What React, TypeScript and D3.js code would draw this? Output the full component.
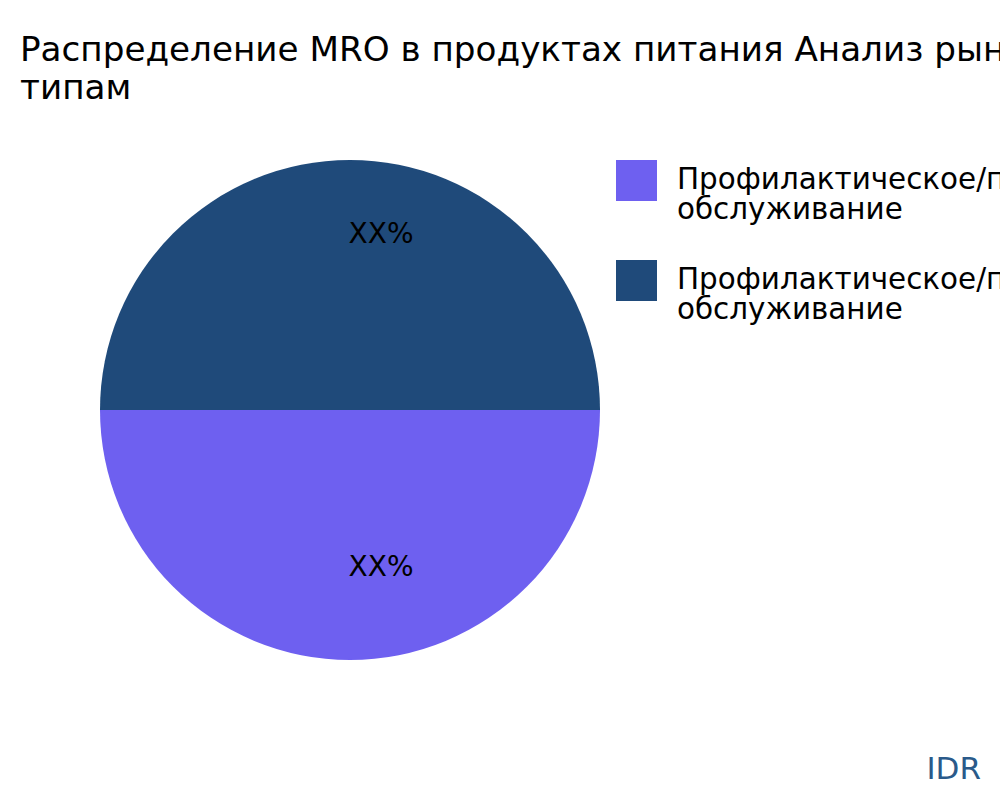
import React from "react";
import * as d3 from "d3";

const categories = [
  "Профилактическое/плановое обслуживание",
  "Профилактическое/плановое обслуживание",
];
const legendLines = [
  ["Профилактическое/плановое", "обслуживание"],
  ["Профилактическое/плановое", "обслуживание"],
];
const values = [50, 50];
const labels = ["XX%", "XX%"];
const colors = ["#6E60F0", "#1F4A7A"];
const titleLines = [
  "Распределение MRO в продуктах питания Анализ рынка по",
  "типам",
];

export default function App() {
  const W = 1000;
  const H = 800;
  const cx = 350;
  const cy = 410;
  const R = 250;
  const font = "'DejaVu Sans', sans-serif";

  const pie = d3
    .pie<number>()
    .sort(null)
    .startAngle(Math.PI / 2)
    .endAngle(Math.PI / 2 + 2 * Math.PI)(values);
  const arc = d3.arc<d3.PieArcDatum<number>>().innerRadius(0).outerRadius(R);
  const labelArcs = [
    d3.arc<d3.PieArcDatum<number>>().innerRadius(312).outerRadius(0),
    d3.arc<d3.PieArcDatum<number>>().innerRadius(354).outerRadius(0),
  ];

  return (
    <svg
      width={W}
      height={H}
      style={{ position: "absolute", left: 0, top: 0, background: "#fff" }}
    >
      <text x={20} y={61} fontFamily={font} fontSize={34.2} fill="#000">
        {titleLines[0]}
      </text>
      <text x={20} y={99} fontFamily={font} fontSize={34.2} fill="#000">
        {titleLines[1]}
      </text>
      <g transform={`translate(${cx},${cy})`}>
        {pie.map((d, i) => (
          <path key={i} d={arc(d) || ""} fill={colors[i]} />
        ))}
        {pie.map((d, i) => {
          const [x, y] = labelArcs[i].centroid(d);
          return (
            <text
              key={"l" + i}
              x={x + 31}
              y={y}
              textAnchor="middle"
              dominantBaseline="central"
              fontFamily={font}
              fontSize={28}
              fill="#000"
            >
              {labels[i]}
            </text>
          );
        })}
      </g>
      {categories.map((c, i) => (
        <g key={"lg" + i} transform={`translate(616,${160 + i * 100})`}>
          <rect width={41} height={41} fill={colors[i]} />
          <text x={61} y={29} fontFamily={font} fontSize={29.4} fill="#000">
            {legendLines[i][0]}
          </text>
          <text x={61} y={59} fontFamily={font} fontSize={29.4} fill="#000">
            {legendLines[i][1]}
          </text>
        </g>
      ))}
      <text
        x={981}
        y={779}
        textAnchor="end"
        fontFamily={font}
        fontSize={31}
        fill="#2A5A8A"
      >
        IDR
      </text>
    </svg>
  );
}
